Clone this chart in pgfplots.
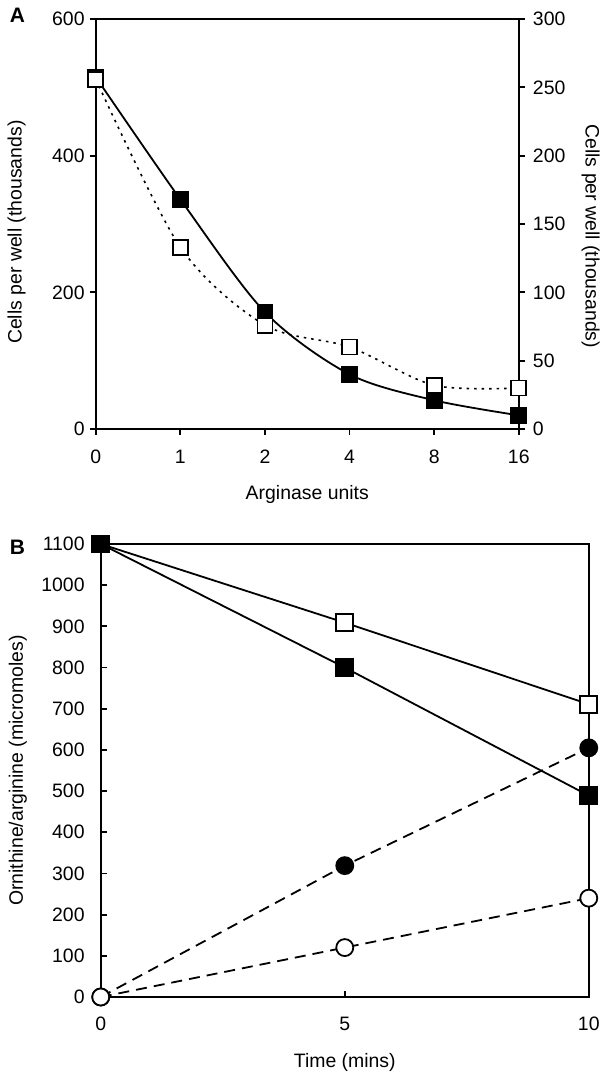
\documentclass[border=0pt]{standalone}
\usepackage{fontspec}
\setmainfont{Liberation Sans}
\usepackage{pgfplots}
\pgfplotsset{compat=1.18}
\begin{document}
\pgfplotsset{
  base/.style={
    scale only axis, clip=false,
    /pgf/number format/assume math mode=true,
    /pgf/number format/1000 sep={},
    tick label style={font=\fontsize{19.5}{20}\selectfont, inner sep=0pt},
    label style={font=\fontsize{19.5}{20}\selectfont, inner sep=0pt},
    axis line style={line width=2bp},
    major tick style={line width=1.8bp, black},
    major tick length=6bp,
    minor tick num=0,
  },
}
\begin{tikzpicture}
\path[use as bounding box] (0,0) rectangle (600bp,1074bp);
% ---------------- Panel A ----------------
\begin{axis}[base,
  at={(93bp,645bp)}, anchor=south west,
  width=423bp, height=410bp,
  xmin=0, xmax=5, ymin=0, ymax=600,
  xtick={0,1,2,3,4,5}, xticklabels={0,1,2,4,8,16},
  ytick={0,200,400,600},
  xtick pos=left, ytick pos=left, tick align=outside,
  xticklabel style={yshift=-15bp},
  yticklabel style={xshift=-5bp},
  xlabel={Arginase units},
  ylabel={Cells per well (thousands)},
  xlabel style={at={(axis description cs:0.5,-0.159)}, anchor=center},
  ylabel style={at={(axis description cs:-0.187,0.48)}, anchor=center},
]
\addplot[black, line width=1.8bp, smooth, tension=0.5,
  mark=square*, mark size=7.5bp, mark options={solid, fill=black}]
  coordinates {(0,515) (1,336) (2,171) (3,80) (4,42) (5,20)};
\end{axis}
\begin{axis}[base,
  at={(93bp,645bp)}, anchor=south west,
  width=423bp, height=410bp,
  xmin=0, xmax=5, ymin=0, ymax=300,
  axis x line=none, axis y line*=right,
  ytick={0,50,...,300}, tick align=outside,
  yticklabel style={xshift=8bp},
  ylabel={Cells per well (thousands)},
  ylabel style={at={(axis description cs:1.170,0.47)}, anchor=center, rotate=180},
]
\addplot[black, line width=1.6bp, smooth, tension=0.5,
  dash pattern=on 2.5bp off 5bp,
  mark=square*, mark size=7.5bp, mark options={solid, fill=white, line width=1.8bp}]
  coordinates {(0,256) (1,133) (2,76) (3,60) (4,32) (5,30)};
\end{axis}
\node[anchor=north west, inner sep=0pt, font=\fontsize{21}{21}\selectfont\bfseries] at (7bp,1066bp) {A};
% ---------------- Panel B ----------------
\begin{axis}[base,
  at={(98bp,77bp)}, anchor=south west,
  width=488bp, height=453bp,
  xmin=0, xmax=10, ymin=0, ymax=1100,
  xtick={0,5,10}, ytick={0,100,...,1100},
  xtick pos=left, ytick pos=left, tick align=inside,
  xticklabel style={yshift=-20bp},
  yticklabel style={xshift=-16bp},
  xlabel={Time (mins)},
  ylabel={Ornithine/arginine (micromoles)},
  xlabel style={at={(axis description cs:0.5,-0.1435)}, anchor=center},
  ylabel style={at={(axis description cs:-0.170,0.5)}, anchor=center},
]
\addplot[black, line width=1.8bp, mark=square*, mark size=8.5bp,
  mark options={fill=white}]
  coordinates {(0,1100) (5,909) (10,711)};
\addplot[black, line width=1.8bp, mark=square*, mark size=8.5bp,
  mark options={fill=black}]
  coordinates {(0,1100) (5,800) (10,489)};
\addplot[black, line width=1.8bp, dash pattern=on 11bp off 7bp,
  mark=*, mark size=8.5bp, mark options={solid, fill=black}]
  coordinates {(0,0) (5,319) (10,605)};
\addplot[black, line width=1.8bp, dash pattern=on 11bp off 7bp,
  mark=*, mark size=8.5bp, mark options={solid, fill=white}]
  coordinates {(0,0) (5,120) (10,240)};
\end{axis}
\node[anchor=north west, inner sep=0pt, font=\fontsize{21}{21}\selectfont\bfseries] at (7bp,534bp) {B};
\end{tikzpicture}
\end{document}
